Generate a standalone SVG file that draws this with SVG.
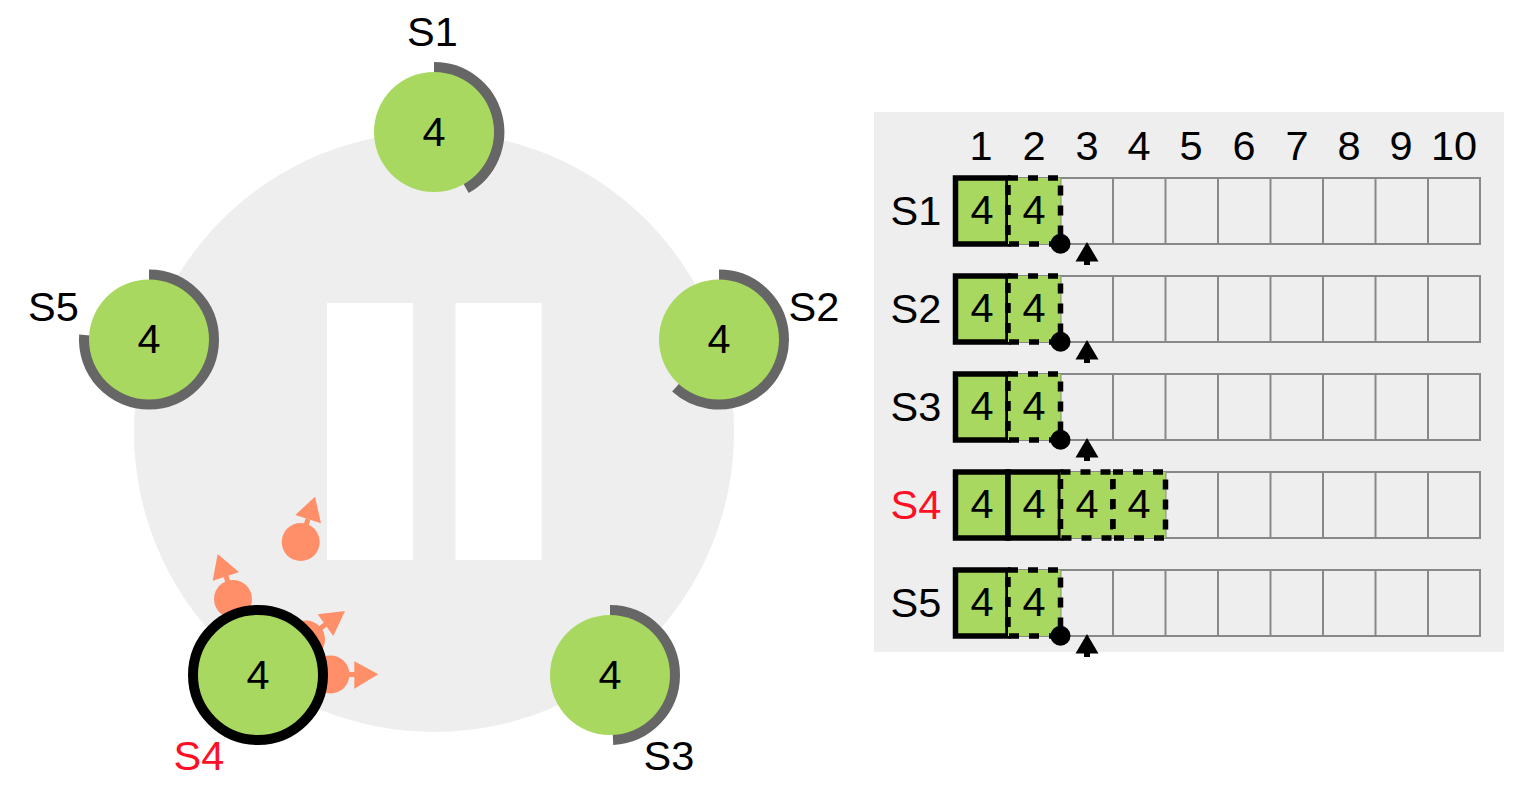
<svg xmlns="http://www.w3.org/2000/svg" xmlns:xlink="http://www.w3.org/1999/xlink" width="1530" height="792" viewBox="0 0 1530 792">
<style>
text{font-family:"Liberation Sans",Arial,sans-serif;font-size:41.5px;text-anchor:middle;fill:#000}
.red{fill:#ff0f25}
.bg{fill:#eee}
.body{fill:#a8d85f}
.arc{fill:none;stroke:#666;stroke-width:11}
.msg{fill:#ff8f68;stroke:none}
.stem{stroke:#ff8f68;stroke-width:5;fill:none}
.grid{fill:none;stroke:#888;stroke-width:2}
.solid{fill:#a8d85f;stroke:#000;stroke-width:5.5}
.dash{fill:#a8d85f;stroke:none}
.dashline{fill:none;stroke:#000;stroke-width:5.5;stroke-dasharray:10 10}
</style>
<defs>
<g id="cells">
<path class="grid" d="M955 0H1480V66H955ZM1008 0V66M1060.5 0V66M1113 0V66M1165.5 0V66M1218 0V66M1270.5 0V66M1323 0V66M1375.5 0V66M1428 0V66"/>
</g>
<g id="cursor">
<circle cx="1060.5" cy="65.7" r="10" fill="#000"/>
<path d="M1087 64L1098.5 83.5H1090V87H1084V83.5H1075.5Z" fill="#000"/>
</g>
<g id="dashcell">
<rect class="dash" x="0" y="0" width="52.5" height="66"/>
<rect class="dashline" x="0" y="0" width="52.5" height="66"/>
</g>
</defs>
<g id="cluster">
<circle class="bg" cx="434" cy="432" r="300"/>
<rect x="327" y="303" width="86" height="257" fill="#fff"/>
<rect x="455.500" y="303" width="86" height="257" fill="#fff"/>
</g>
<g id="messages">
<g id="msg1"><path class="stem" d="M300.700 542L308 519"/><circle class="msg" cx="300.700" cy="542" r="19"/><path class="msg" d="M315 496.700L321 523.300L295.300 515Z"/></g>
<g id="msg2"><path class="stem" d="M233 599L226 576"/><circle class="msg" cx="233" cy="599" r="19"/><path class="msg" d="M217.700 554L239 572.300L212.700 580.700Z"/></g>
<g id="msg3"><path class="stem" d="M306 639.500L326 624"/><circle class="msg" cx="306" cy="639.500" r="19"/><path class="msg" d="M345 611L333.300 636L317.700 614.300Z"/></g>
<g id="msg4"><path class="stem" d="M330.500 674.500H355"/><circle class="msg" cx="330.500" cy="674.500" r="19"/><path class="msg" d="M378.300 674.300L354.300 688.700V661.300Z"/></g>
</g>
<g id="server-s1">
<path class="arc" d="M434 67.500A64.500 64.500 0 0 1 466 188.200"/>
<circle class="body" cx="434" cy="132" r="60"/>
<text x="434" y="145.500">4</text>
<text x="432.500" y="45.500">S1</text>
</g>
<g id="server-s2">
<path class="arc" d="M719 275A64.500 64.500 0 0 1 783.500 339.500A64.500 64.500 0 0 1 675.800 387.400"/>
<circle class="body" cx="719" cy="339.500" r="60"/>
<text x="719" y="353">4</text>
<text x="814" y="321">S2</text>
</g>
<g id="server-s3">
<path class="arc" d="M610 610.500A64.500 64.500 0 0 1 674.500 675A64.500 64.500 0 0 1 613 739.430"/>
<circle class="body" cx="610" cy="675" r="60"/>
<text x="610" y="688.500">4</text>
<text x="669" y="770">S3</text>
</g>
<g id="server-s4">
<circle class="body" cx="258" cy="675" r="65" stroke="#000" stroke-width="10"/>
<text x="258" y="688.500">4</text>
<text class="red" x="199" y="770">S4</text>
</g>
<g id="server-s5">
<path class="arc" d="M149 275A64.500 64.500 0 0 1 149 404A64.500 64.500 0 0 1 84.600 335"/>
<circle class="body" cx="149" cy="339.500" r="60"/>
<text x="149" y="353">4</text>
<text x="53.500" y="321">S5</text>
</g>
<g id="log-panel">
<rect class="bg" x="874" y="112" width="630" height="540"/>
<text x="981" y="160">1</text><text x="1034" y="160">2</text><text x="1087" y="160">3</text><text x="1139" y="160">4</text><text x="1191" y="160">5</text><text x="1244" y="160">6</text><text x="1297" y="160">7</text><text x="1349" y="160">8</text><text x="1401" y="160">9</text><text x="1454" y="160">10</text>
</g>
<g id="log-s1">
<use xlink:href="#cells" href="#cells" y="178"/>
<text x="916" y="225">S1</text>
<rect class="solid" x="955.500" y="178" width="52.500" height="66"/>
<use xlink:href="#dashcell" href="#dashcell" x="1008" y="178"/>
<text x="982" y="224">4</text><text x="1034" y="224">4</text>
<use xlink:href="#cursor" href="#cursor" y="178"/>
</g>
<g id="log-s2">
<use xlink:href="#cells" href="#cells" y="276"/>
<text x="916" y="323">S2</text>
<rect class="solid" x="955.500" y="276" width="52.500" height="66"/>
<use xlink:href="#dashcell" href="#dashcell" x="1008" y="276"/>
<text x="982" y="322">4</text><text x="1034" y="322">4</text>
<use xlink:href="#cursor" href="#cursor" y="276"/>
</g>
<g id="log-s3">
<use xlink:href="#cells" href="#cells" y="374"/>
<text x="916" y="421">S3</text>
<rect class="solid" x="955.500" y="374" width="52.500" height="66"/>
<use xlink:href="#dashcell" href="#dashcell" x="1008" y="374"/>
<text x="982" y="420">4</text><text x="1034" y="420">4</text>
<use xlink:href="#cursor" href="#cursor" y="374"/>
</g>
<g id="log-s4">
<use xlink:href="#cells" href="#cells" y="472"/>
<text class="red" x="916" y="519">S4</text>
<rect class="solid" x="955.500" y="472" width="52.500" height="66"/>
<rect class="solid" x="1008" y="472" width="52.500" height="66"/>
<use xlink:href="#dashcell" href="#dashcell" x="1060.500" y="472"/>
<use xlink:href="#dashcell" href="#dashcell" x="1113" y="472"/>
<text x="982" y="518">4</text><text x="1034" y="518">4</text><text x="1087" y="518">4</text><text x="1139" y="518">4</text>
</g>
<g id="log-s5">
<use xlink:href="#cells" href="#cells" y="570"/>
<text x="916" y="617">S5</text>
<rect class="solid" x="955.500" y="570" width="52.500" height="66"/>
<use xlink:href="#dashcell" href="#dashcell" x="1008" y="570"/>
<text x="982" y="616">4</text><text x="1034" y="616">4</text>
<use xlink:href="#cursor" href="#cursor" y="570"/>
</g>
</svg>
